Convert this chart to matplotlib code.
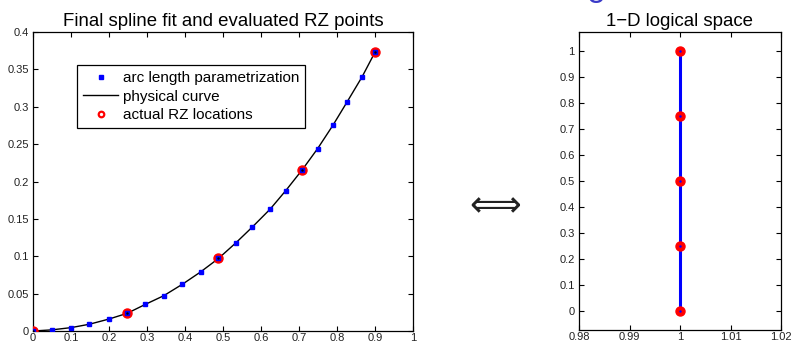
import matplotlib
matplotlib.use('Agg')
import matplotlib.pyplot as plt
from matplotlib.lines import Line2D
from matplotlib.ticker import FormatStrFormatter

# arc length parametrization samples
arc_r = [0, 0.049, 0.1, 0.148, 0.2, 0.248, 0.296, 0.344, 0.393, 0.441, 0.488,
         0.534, 0.577, 0.624, 0.665, 0.709, 0.749, 0.789, 0.826, 0.866, 0.9]
arc_z = [0, 0.0015, 0.0045, 0.009, 0.016, 0.0237, 0.0357, 0.0472, 0.0625, 0.079,
         0.097, 0.118, 0.139, 0.163, 0.1877, 0.216, 0.244, 0.275, 0.306, 0.340, 0.373]

# actual RZ locations
rz_r = [0, 0.248, 0.488, 0.709, 0.9]
rz_z = [0, 0.0237, 0.097, 0.216, 0.373]

# 1-D logical space
logical_x = [1, 1, 1, 1, 1]
logical_s = [0, 0.25, 0.5, 0.75, 1]

legend_labels = ['arc length parametrization', 'physical curve', 'actual RZ locations']

plt.rcParams['font.family'] = ['Liberation Sans', 'DejaVu Sans']
plt.rcParams['axes.linewidth'] = 0.9


def style_axes(ax):
    ax.tick_params(direction='in', top=True, right=True, length=3.5, width=0.8,
                   labelsize=8, pad=3, labelcolor='#222222')
    ax.tick_params(axis='x', pad=1.2)


fig = plt.figure(figsize=(7.93, 3.45), dpi=100)

ax1 = fig.add_axes([33 / 793, 14 / 345, 380 / 793, 299 / 345])
ax1.plot(arc_r, arc_z, color='black', lw=1.0, zorder=2)
ax1.plot(rz_r, rz_z, linestyle='none', marker='o', ms=6.5, color='red',
         mec='red', zorder=3)
ax1.plot(rz_r, rz_z, linestyle='none', marker='.', ms=1.5, color='black', zorder=4)
ax1.plot(arc_r, arc_z, linestyle='none', marker='s', ms=2.6, color='blue',
         mec='blue', zorder=3.5)
ax1.set_xlim(0, 1)
ax1.set_ylim(0, 0.4)
ax1.set_xticks([i / 10 for i in range(11)])
ax1.set_yticks([i * 0.05 for i in range(9)])
ax1.xaxis.set_major_formatter(FormatStrFormatter('%g'))
ax1.yaxis.set_major_formatter(FormatStrFormatter('%g'))
style_axes(ax1)
ax1.set_title('Final spline fit and evaluated RZ points', fontsize=13.4, pad=4)

handles = [
    Line2D([], [], linestyle='none', marker='s', ms=2.2, color='blue'),
    Line2D([], [], color='black', lw=1.0),
    Line2D([], [], linestyle='none', marker='o', ms=4, mfc='white',
           mec='red', mew=1.6),
]
leg = ax1.legend(handles, legend_labels, loc='upper left',
                 bbox_to_anchor=(0.116, 0.89), fontsize=11, frameon=True,
                 fancybox=False, edgecolor='black', framealpha=1,
                 handlelength=2.3, handletextpad=0.3, labelspacing=0.3,
                 borderpad=0.4, borderaxespad=0)
leg.get_frame().set_linewidth(0.9)

ax2 = fig.add_axes([579 / 793, 15 / 345, 202 / 793, 298 / 345])
ax2.plot(logical_x, logical_s, color='blue', lw=2.2, zorder=2)
ax2.plot(logical_x, logical_s, linestyle='none', marker='o', ms=6.5,
         color='red', mec='red', zorder=3)
ax2.plot(logical_x, logical_s, linestyle='none', marker='.', ms=1.5,
         color='blue', zorder=4)
ax2.set_xlim(0.98, 1.02)
ax2.set_ylim(-0.073, 1.073)
ax2.set_xticks([0.98, 0.99, 1, 1.01, 1.02])
ax2.set_yticks([i / 10 for i in range(11)])
ax2.xaxis.set_major_formatter(FormatStrFormatter('%g'))
ax2.yaxis.set_major_formatter(FormatStrFormatter('%g'))
style_axes(ax2)
ax2.set_title('1\u2212D logical space', fontsize=13.4, pad=4)

# double arrow between the panels
fig.text(492 / 793, 1 - 205 / 345, r'$\Longleftrightarrow$', fontsize=26,
         ha='center', va='center', color='#222222')

# clipped blue glyph at the top edge
fig.text(596 / 793, 1 - 3 / 345, 'o', fontsize=24, ha='center', va='baseline',
         color='#3a3ac8')

fig.savefig('out.png', dpi=100)
